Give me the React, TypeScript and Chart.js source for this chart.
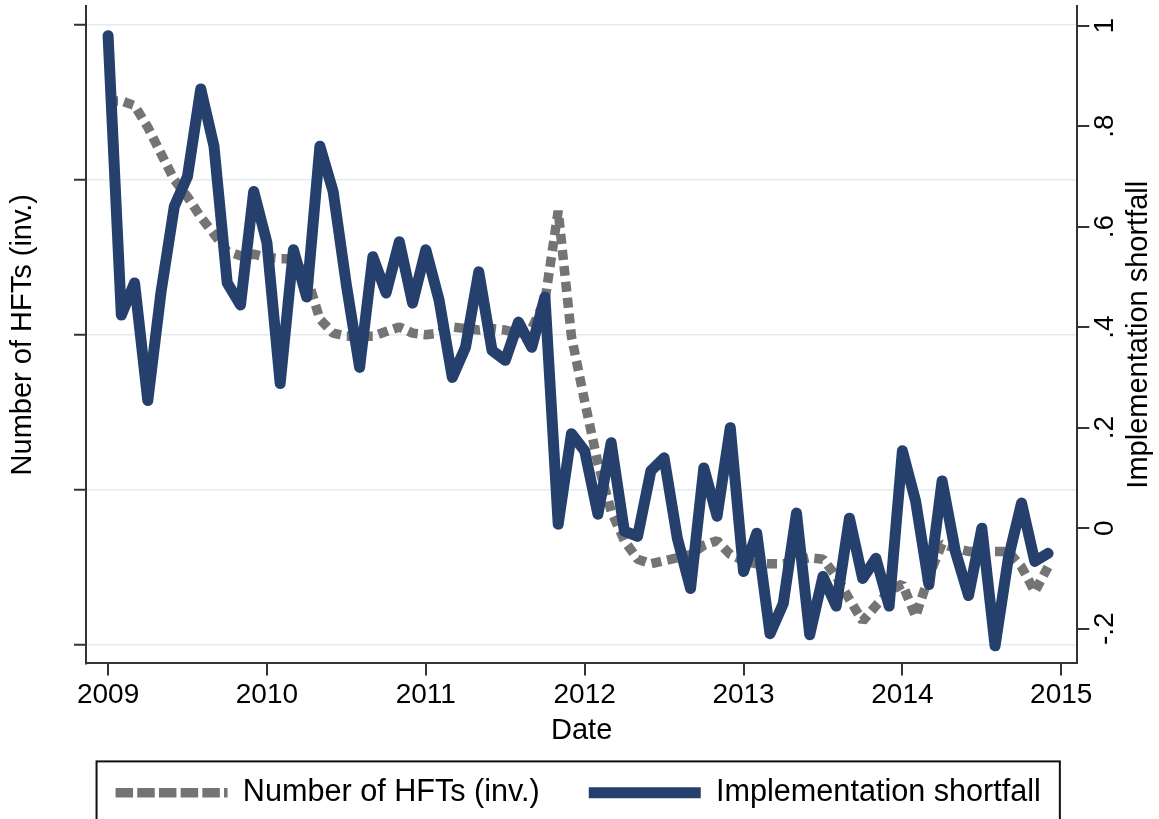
import React, { useEffect, useRef } from 'react';
import { Chart, registerables } from 'chart.js';

Chart.register(...registerables);

// ---------- data ----------
const START_YEAR = 2009;
const MONTH_COUNT = 72;
const DATES = Array.from({ length: MONTH_COUNT }, (_, i) => START_YEAR + i / 12);

const X_TICKS = [2009, 2010, 2011, 2012, 2013, 2014, 2015];
const X_MIN = 2008.861;
const X_MAX = 2015.101;

// Number of HFTs (inverted), left axis (unlabelled units)
const HFT_INV = [
  3.51, 3.51, 3.48, 3.34, 3.17, 3.0, 2.89, 2.76, 2.65, 2.54, 2.51, 2.52,
  2.5, 2.49, 2.49, 2.38, 2.1, 2.01, 1.99, 1.99, 1.99, 2.02, 2.05, 2.01,
  2.0, 2.01, 2.05, 2.04, 2.03, 2.04, 2.03, 2.01, 2.04, 2.22, 2.8, 1.99,
  1.57, 1.17, 0.86, 0.67, 0.55, 0.52, 0.54, 0.56, 0.58, 0.64, 0.67, 0.58,
  0.54, 0.52, 0.52, 0.52, 0.54, 0.56, 0.55, 0.44, 0.29, 0.15, 0.25, 0.34,
  0.39, 0.18, 0.44, 0.65, 0.62, 0.6, 0.6, 0.6, 0.6, 0.5, 0.34, 0.5,
];

// Implementation shortfall, right axis
const SHORTFALL = [
  0.98, 0.424, 0.488, 0.254, 0.47, 0.64, 0.7, 0.874, 0.76, 0.488, 0.444, 0.67,
  0.568, 0.288, 0.554, 0.46, 0.76, 0.67, 0.484, 0.32, 0.54, 0.468, 0.57, 0.448,
  0.554, 0.454, 0.3, 0.36, 0.51, 0.354, 0.334, 0.41, 0.36, 0.46, 0.008, 0.188,
  0.154, 0.028, 0.17, -0.006, -0.016, 0.114, 0.14, -0.02, -0.12, 0.12, 0.024, 0.2,
  -0.086, -0.01, -0.21, -0.15, 0.03, -0.212, -0.096, -0.155, 0.02, -0.1, -0.06, -0.155,
  0.154, 0.054, -0.112, 0.094, -0.046, -0.134, 0.0, -0.234, -0.06, 0.05, -0.066, -0.05,
];

const LEFT_TICKS = [0, 1, 2, 3, 4];
const LEFT_MIN = -0.123;
const LEFT_MAX = 4.123;

const RIGHT_TICKS = [-0.2, 0, 0.2, 0.4, 0.6, 0.8, 1];
const RIGHT_TICK_LABELS = ['-.2', '0', '.2', '.4', '.6', '.8', '1'];
const RIGHT_MIN = -0.269;
const RIGHT_MAX = 1.039;

const SERIES_NAMES = ['Number of HFTs (inv.)', 'Implementation shortfall'];
const X_TITLE = 'Date';

// ---------- styles ----------
const FONT = "'Liberation Sans', Arial, Helvetica, sans-serif";
const TICK_SIZE = 28;
const TITLE_SIZE = 29;
const LEGEND_SIZE = 30.6;
const AXIS_COLOR = '#333333';
const GRID_COLOR = '#e2ecf0';
const GRAY = '#747474';
const NAVY = '#26406e';
const RIGHT_TITLE_PAD_TOP = 0;

const zeroPadding = (scale: any) => {
  scale.paddingTop = 0;
  scale.paddingBottom = 0;
  scale.paddingLeft = 0;
  scale.paddingRight = 0;
};

const overlayPlugin = {
  id: 'overlay',
  afterDraw(chart: any) {
    const ctx = chart.ctx;
    // right axis title, reading bottom-to-top
    const s = chart.scales.yR;
    const lh = TITLE_SIZE * 1.2;
    ctx.save();
    ctx.font = `${TITLE_SIZE}px ${FONT}`;
    ctx.fillStyle = '#000';
    ctx.textAlign = 'center';
    ctx.textBaseline = 'middle';
    ctx.translate(s.right - RIGHT_TITLE_PAD_TOP - lh / 2, (s.top + s.bottom) / 2);
    ctx.rotate(-Math.PI / 2);
    ctx.fillText(SERIES_NAMES[1], 0, 0);
    ctx.restore();

    // legend frame
    const lg = chart.legend;
    if (lg && lg.legendHitBoxes && lg.legendHitBoxes.length) {
      const hb = lg.legendHitBoxes;
      const first = hb[0];
      const last = hb[hb.length - 1];
      const left = first.left - 19;
      const right = last.left + last.width + 19;
      const top = lg.top + 33;
      ctx.save();
      ctx.strokeStyle = '#111';
      ctx.lineWidth = 2;
      ctx.strokeRect(left, top, right - left, chart.height - top + 20);
      ctx.restore();
    }
  },
};

export default function App() {
  const ref = useRef<HTMLCanvasElement | null>(null);

  useEffect(() => {
    if (!ref.current) return;
    Chart.defaults.font.family = FONT;
    const chart = new Chart(ref.current, {
      type: 'line',
      data: {
        datasets: [
          {
            label: SERIES_NAMES[0],
            data: DATES.map((d, i) => ({ x: d, y: HFT_INV[i] })),
            yAxisID: 'yL',
            borderColor: GRAY,
            backgroundColor: GRAY,
            borderWidth: 9.5,
            borderDash: [10, 6],
            borderCapStyle: 'butt',
            borderJoinStyle: 'bevel',
            pointRadius: 0,
            tension: 0,
            fill: false,
            order: 2,
          },
          {
            label: SERIES_NAMES[1],
            data: DATES.map((d, i) => ({ x: d, y: SHORTFALL[i] })),
            yAxisID: 'yR',
            borderColor: NAVY,
            backgroundColor: NAVY,
            borderWidth: 11,
            borderCapStyle: 'round',
            borderJoinStyle: 'round',
            pointRadius: 0,
            tension: 0,
            fill: false,
            order: 1,
          },
        ],
      },
      options: {
        responsive: false,
        animation: false,
        events: [],
        layout: { padding: { top: 6, left: 0, right: 2.6, bottom: 1 } },
        plugins: {
          tooltip: { enabled: false },
          title: { display: false },
          legend: {
            display: true,
            position: 'bottom',
            align: 'center',
            labels: {
              usePointStyle: true,
              pointStyle: 'line',
              pointStyleWidth: 112,
              boxWidth: 112,
              padding: 49,
              color: '#000',
              font: { size: LEGEND_SIZE, family: FONT },
              sort: (a: any, b: any) => a.datasetIndex - b.datasetIndex,
              generateLabels: (chart: any) => {
                const items = Chart.defaults.plugins.legend.labels.generateLabels(chart);
                items.forEach((it: any) => {
                  it.lineCap = 'butt';
                  it.pointStyle = 'line';
                  if (it.datasetIndex === 0) {
                    it.lineDash = [17.5, 4.2];
                    it.lineWidth = 9.5;
                  } else {
                    it.lineDash = [];
                    it.lineWidth = 11;
                  }
                });
                return items;
              },
            },
          },
        },
        scales: {
          x: {
            type: 'linear',
            position: 'bottom',
            min: X_MIN,
            max: X_MAX,
            afterBuildTicks: (scale: any) => {
              scale.ticks = X_TICKS.map((v) => ({ value: v }));
            },
            afterFit: zeroPadding,
            ticks: {
              callback: (v: any) => String(v),
              color: '#000',
              font: { size: TICK_SIZE, family: FONT },
              padding: 3,
              maxRotation: 0,
              minRotation: 0,
              autoSkip: false,
            },
            grid: {
              display: true,
              drawOnChartArea: false,
              drawTicks: true,
              tickLength: 12,
              color: AXIS_COLOR,
              lineWidth: 2,
            },
            border: { display: true, color: AXIS_COLOR, width: 2 },
            title: {
              display: true,
              text: X_TITLE,
              color: '#000',
              font: { size: TITLE_SIZE, family: FONT },
              padding: { top: -1.4, bottom: -20 },
            },
          },
          yL: {
            type: 'linear',
            position: 'left',
            min: LEFT_MIN,
            max: LEFT_MAX,
            afterBuildTicks: (scale: any) => {
              scale.ticks = LEFT_TICKS.map((v) => ({ value: v }));
            },
            afterFit: zeroPadding,
            ticks: { display: false },
            grid: {
              display: true,
              drawOnChartArea: true,
              drawTicks: true,
              tickLength: 12,
              color: GRID_COLOR,
              lineWidth: 1.5,
              tickColor: AXIS_COLOR,
              tickWidth: 2,
            },
            border: { display: true, color: AXIS_COLOR, width: 2 },
            title: {
              display: true,
              text: SERIES_NAMES[0],
              color: '#000',
              font: { size: TITLE_SIZE, family: FONT },
              padding: { top: 5.6, bottom: 33.6 },
            },
          },
          yR: {
            type: 'linear',
            position: 'right',
            min: RIGHT_MIN,
            max: RIGHT_MAX,
            afterBuildTicks: (scale: any) => {
              scale.ticks = RIGHT_TICKS.map((v) => ({ value: v }));
            },
            afterFit: zeroPadding,
            ticks: {
              callback: (_v: any, i: number) => RIGHT_TICK_LABELS[i],
              color: '#000',
              font: { size: TICK_SIZE, family: FONT },
              padding: -0.3,
              minRotation: 90,
              maxRotation: 90,
              crossAlign: 'center',
              autoSkip: false,
            },
            grid: {
              display: true,
              drawOnChartArea: false,
              drawTicks: true,
              tickLength: 12,
              color: AXIS_COLOR,
              lineWidth: 2,
            },
            border: { display: true, color: AXIS_COLOR, width: 2 },
            title: {
              display: true,
              text: SERIES_NAMES[1],
              color: 'rgba(0,0,0,0)',
              font: { size: TITLE_SIZE, family: FONT },
              padding: { top: RIGHT_TITLE_PAD_TOP, bottom: -0.7 },
            },
          },
        },
      },
      plugins: [overlayPlugin],
    } as any);
    return () => chart.destroy();
  }, []);

  return (
    <div style={{ position: 'absolute', left: 0, top: 0, width: 1159, height: 819, background: '#fff' }}>
      <canvas ref={ref} width={1159} height={819} style={{ display: 'block' }} />
    </div>
  );
}
